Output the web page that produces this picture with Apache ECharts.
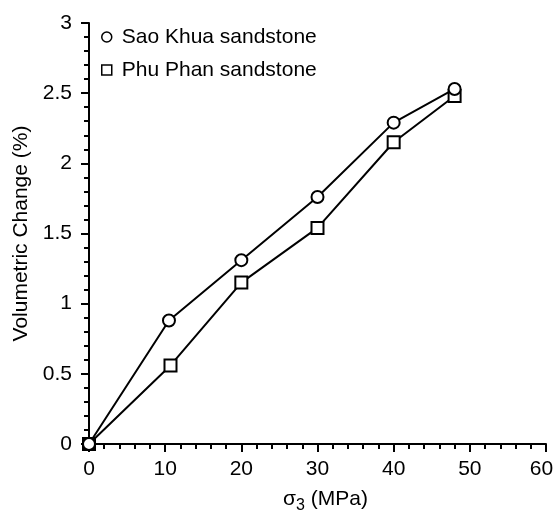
<!DOCTYPE html>
<html>
<head>
<meta charset="utf-8">
<script src="https://cdn.jsdelivr.net/npm/echarts@6/dist/echarts.min.js"></script>
<style>
  html, body { margin: 0; padding: 0; background: #fff; }
  #chart { width: 556px; height: 510px; }
</style>
</head>
<body>
<div id="chart"></div>
<script>
// sigma3 (MPa) and volumetric change (%)
var saoKhuaX = [0, 10.5, 20, 30, 40, 48];
var saoKhuaY = [0, 0.88, 1.31, 1.76, 2.29, 2.53];
var phuPhanX = [0, 10.7, 20, 30, 40, 48];
var phuPhanY = [0, 0.56, 1.15, 1.54, 2.15, 2.48];

var font = 'Liberation Sans, Arial, sans-serif';
var chart = echarts.init(document.getElementById('chart'));

function pairs(xs, ys) {
    return xs.map(function (x, i) { return [x, ys[i]]; });
}

var axisCommon = {
    axisLine: { onZero: false, lineStyle: { color: '#000', width: 2 } },
    axisTick: { show: true, inside: false, length: 8, lineStyle: { color: '#000', width: 2 } },
    minorTick: { show: true, splitNumber: 5, length: 5, lineStyle: { color: '#000', width: 2 } },
    splitLine: { show: false }
};

chart.setOption({
    animation: false,
    grid: { left: 89, right: 10, top: 23, bottom: 66, containLabel: false, outerBoundsMode: 'none' },
    legend: {
        orient: 'vertical',
        left: 101,
        top: 26,
        padding: 0,
        itemWidth: 10,
        itemHeight: 10,
        itemGap: 11,
        textStyle: { color: '#000', fontSize: 21, fontFamily: font, lineHeight: 22, padding: [0, 0, 0, 5] },
        data: [
            { name: 'Sao Khua sandstone', icon: 'circle', itemStyle: { color: '#fff', borderColor: '#000', borderWidth: 1.5 } },
            { name: 'Phu Phan sandstone', icon: 'rect', itemStyle: { color: '#fff', borderColor: '#000', borderWidth: 1.5 } }
        ]
    },
    xAxis: Object.assign({}, axisCommon, {
        type: 'value',
        min: 0,
        max: 60,
        interval: 10,
        axisLabel: {
            color: '#000', fontSize: 21, fontFamily: font, margin: 15,
            // last label sits a little left of its tick so it stays on the canvas
            formatter: function (v) { return v === 60 ? '{r|' + v + '}' : String(v); },
            rich: { r: { fontSize: 21, fontFamily: font, color: '#000', padding: [0, 9, 0, 0] } }
        },
        name: '{a|σ}{s|3}{a| (MPa)}',
        nameLocation: 'middle',
        nameGap: 45,
        nameTextStyle: {
            color: '#000',
            padding: [0, 0, 0, 16],
            rich: {
                a: { fontSize: 21, fontFamily: font, color: '#000', lineHeight: 22, verticalAlign: 'top' },
                s: { fontSize: 16, fontFamily: font, color: '#000', lineHeight: 16, verticalAlign: 'top', padding: [9, 0, 0, 0] }
            }
        }
    }),
    yAxis: Object.assign({}, axisCommon, {
        type: 'value',
        min: 0,
        max: 3,
        interval: 0.5,
        axisLabel: { color: '#000', fontSize: 21, fontFamily: font, margin: 17 },
        name: 'Volumetric Change (%)',
        nameLocation: 'middle',
        nameGap: 53,
        nameTextStyle: { color: '#000', fontSize: 21, fontFamily: font }
    }),
    series: [
        {
            name: 'Sao Khua sandstone',
            type: 'line',
            data: pairs(saoKhuaX, saoKhuaY),
            symbol: 'circle',
            symbolSize: 12,
            showAllSymbol: true,
            clip: false,
            z: 3,
            lineStyle: { color: '#000', width: 2 },
            itemStyle: { color: '#fff', borderColor: '#000', borderWidth: 2 }
        },
        {
            name: 'Phu Phan sandstone',
            type: 'line',
            data: pairs(phuPhanX, phuPhanY),
            symbol: 'rect',
            symbolSize: 12,
            showAllSymbol: true,
            clip: false,
            z: 2,
            lineStyle: { color: '#000', width: 2 },
            itemStyle: { color: '#fff', borderColor: '#000', borderWidth: 2 }
        }
    ]
});
</script>
</body>
</html>
